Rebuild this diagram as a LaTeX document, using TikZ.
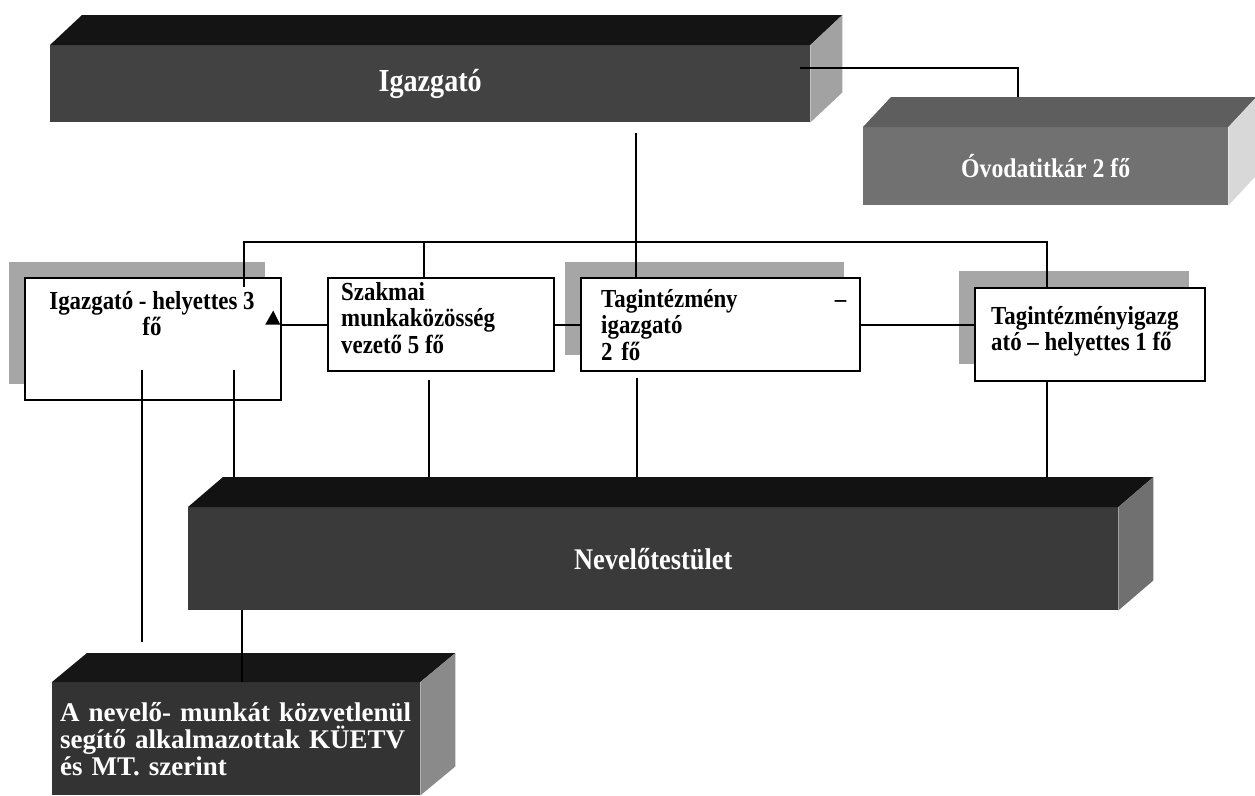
\documentclass[tikz,border=0pt]{standalone}
\usepackage{fontspec}
\setmainfont{Liberation Serif}
\newfontfamily\narrowserif{Liberation Serif}[FakeStretch=0.88]
\usetikzlibrary{calc,shadows}
\definecolor{igfront}{HTML}{424242}
\definecolor{igtop}{HTML}{141414}
\definecolor{igside}{HTML}{A2A2A2}
\definecolor{ovfront}{HTML}{717171}
\definecolor{ovtop}{HTML}{5E5E5E}
\definecolor{ovside}{HTML}{D8D8D8}
\definecolor{nevfront}{HTML}{3A3A3A}
\definecolor{nevtop}{HTML}{121212}
\definecolor{nevside}{HTML}{707070}
\definecolor{botfront}{HTML}{333333}
\definecolor{bottop}{HTML}{161616}
\definecolor{botside}{HTML}{8A8A8A}
\definecolor{shadowgray}{HTML}{A6A6A6}
\newcommand\cubefaces[5]{%
  \fill[#4] (#1.north west) -- ++(#2,-#3) -- ($(#1.north east)+(#2,-#3)$) -- (#1.north east) -- cycle;
  \fill[#5] (#1.north east) -- ++(#2,-#3) -- ($(#1.south east)+(#2,-#3)$) -- (#1.south east) -- cycle;}
\begin{document}
\begin{tikzpicture}[x=1pt,y=-1pt,
  conn/.style={line width=1.8pt,black},
  mbox/.style={draw=black,line width=2.2pt,fill=white,inner sep=0pt,anchor=north west},
  shad/.style={drop shadow={shadow xshift=-16pt,shadow yshift=16pt,opacity=1,fill=shadowgray}},
  mtext/.style={font=\narrowserif\bfseries\fontsize{26}{26.5}\selectfont,inner sep=0pt},
  cube/.style={inner sep=0pt,anchor=north west,text=white},
]
\useasboundingbox (0,0) rectangle (1255,795);
\fill[white] (0,0) rectangle (1255,795);

% 3D boxes
\node[cube,fill=igfront,minimum width=760pt,minimum height=77pt,font=\narrowserif\bfseries\fontsize{32}{36}\selectfont] (ig) at (50,45) {Igazgató};
\cubefaces{ig}{32}{30}{igtop}{igside}
\node[cube,fill=ovfront,minimum width=365pt,minimum height=78pt,font=\narrowserif\bfseries\fontsize{27}{30}\selectfont] (ov) at (863,127) {Óvodatitkár 2 fő};
\cubefaces{ov}{28}{30}{ovtop}{ovside}
\node[cube,fill=nevfront,minimum width=930pt,minimum height=103pt,font=\narrowserif\bfseries\fontsize{30}{34}\selectfont] (nev) at (188,507) {Nevelőtestület};
\cubefaces{nev}{35}{30}{nevtop}{nevside}
\node[cube,fill=botfront,minimum width=368pt,minimum height=113pt,text width=352pt,align=left,inner xsep=8pt,font=\bfseries\fontsize{27}{27}\selectfont] (bot) at (52,682) {A nevelő- munkát közvetlenül\\segítő alkalmazottak KÜETV\\és MT. szerint};
\cubefaces{bot}{35}{29}{bottop}{botside}

% middle boxes
\node[mbox,shad,minimum width=256pt,minimum height=122pt] (ih) at (24,277) {};
\node[mbox,minimum width=226pt,minimum height=93pt] (sz) at (327,277) {};
\node[mbox,shad,minimum width=279pt,minimum height=93pt] (tag) at (580,277) {};
\node[mbox,drop shadow={shadow xshift=-16pt,shadow yshift=17pt,opacity=1,fill=shadowgray},minimum width=230pt,minimum height=93pt] (tih) at (974,287) {};

\node[mtext,align=center,anchor=north] (iht) at (152,291) {Igazgató - helyettes 3\\fő};
\node[mtext,align=left,anchor=north west] (szt) at (341,282) {Szakmai\\munkaközösség\\vezető 5 fő};
\node[mtext,align=left,text width=245pt,anchor=north west] (tagt) at (601,289) {Tagintézmény\hfill –\\igazgató\\2 fő};
\node[mtext,align=left,anchor=north west] (tiht) at (991,306) {Tagintézményigazg\\ató – helyettes 1 fő};

% coordinates for connector ends
\coordinate (igr) at (800,68);
\coordinate (ovt) at (1018,97);
\coordinate (igb) at (636,133);
\coordinate (busl) at (244,242);
\coordinate (busr) at (1047,242);
\coordinate (ihin) at (244,287);
\coordinate (szs) at (424,242);
\coordinate (nevtop) at (653,477);
\coordinate (d1) at (142,370);
\coordinate (d1e) at (142,642);
\coordinate (d2) at (234,370);
\coordinate (d3) at (429,380);
\coordinate (d4) at (637,378);
\coordinate (d6) at (242,682);

% connectors
\draw[conn] (igr) -| (ovt);
\draw[conn] (igb) -- (igb |- tag.north);
\draw[conn] (ihin) -- (busl) -- (busr) -- (busr |- tih.north);
\draw[conn] (szs) -- (szs |- sz.north);
\draw[conn] (sz.west) -- (sz.west -| ih.east);
\fill[black] ($(sz.west -| ih.east)+(-17,0)$) -- ++(15,0) -- ++(-7,-14) -- cycle;
\draw[conn] (tag.west) -- (tag.west -| sz.east);
\draw[conn] (tag.east) -- (tag.east -| tih.west);
\draw[conn] (d1) -- (d1e);
\draw[conn] (d2) -- (d2 |- nevtop);
\draw[conn] (d3) -- (d3 |- nevtop);
\draw[conn] (d4) -- (d4 |- nevtop);
\draw[conn] (tih.south -| busr) -- (busr |- nevtop);
\draw[conn] (d6 |- nev.south) -- (d6);
\end{tikzpicture}
\end{document}
